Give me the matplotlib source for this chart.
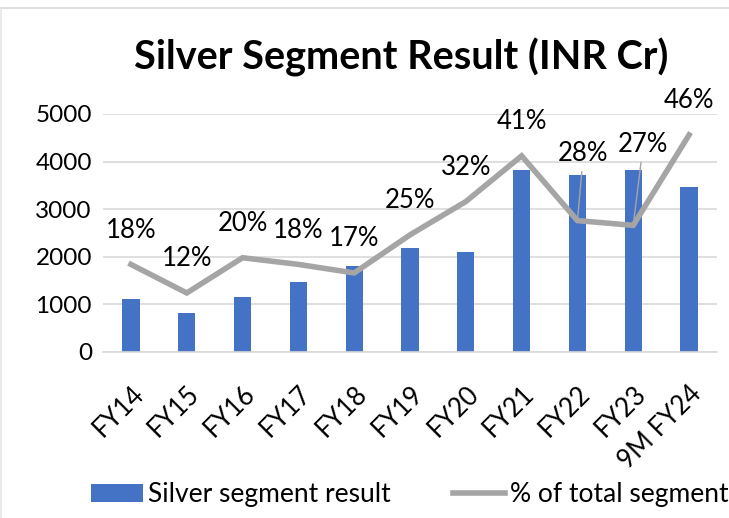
import matplotlib.pyplot as plt
import numpy as np

plt.rcParams['font.family'] = ['Lato', 'DejaVu Sans']

years = ['FY14', 'FY15', 'FY16', 'FY17', 'FY18', 'FY19', 'FY20', 'FY21', 'FY22', 'FY23', '9M FY24']
result = [1115, 820, 1160, 1470, 1805, 2190, 2100, 3825, 3710, 3825, 3465]   # INR Cr
share = [18.4, 12.4, 19.8, 18.4, 16.6, 24.6, 31.6, 41.2, 27.6, 26.6, 45.6]  # % of total segment

blue = '#4472C4'
grey = '#A5A5A5'

fig = plt.figure(figsize=(7.29, 5.18), dpi=100)
ax = fig.add_axes([0.1413, 0.3205, 0.8422, 0.4595])
x = np.arange(len(years))

ax.bar(x, result, width=0.31, color=blue, zorder=2, label='Silver segment result')
ax.set_xlim(-0.5, len(years) - 0.5)
ax.set_ylim(0, 5000)
ax.set_yticks(range(0, 5001, 1000))
ax.grid(axis='y', color='#D9D9D9', linewidth=1.2, zorder=0)
for s in ['top', 'right', 'left']:
    ax.spines[s].set_visible(False)
ax.spines['bottom'].set_color('#D9D9D9')
ax.spines['bottom'].set_linewidth(1.2)
ax.tick_params(length=0, labelsize=17.5, pad=8)
ax.set_xticks(x)
ax.set_xticklabels(years, rotation=45, ha='right', rotation_mode='anchor', fontsize=18.5)
ax.tick_params(axis='x', pad=21)

ax2 = ax.twinx()
ax2.set_ylim(0, 50)
ax2.axis('off')
ax2.plot(x, share, color=grey, linewidth=4, solid_joinstyle='miter', label='% of total segment', zorder=3)

# data labels, the FY22 / FY23 ones were dragged off with leader lines
offsets = {8: (6, 67), 9: (10, 81)}
for i, v in enumerate(share):
    txt = '%d%%' % round(v)
    if i in offsets:
        ax2.annotate(txt, (x[i], v), xytext=offsets[i], textcoords='offset pixels',
                     ha='center', va='center', fontsize=18.5,
                     arrowprops=dict(arrowstyle='-', color=grey, lw=1, shrinkA=2, shrinkB=2))
    else:
        ax2.annotate(txt, (x[i], v), xytext=(0, 34), textcoords='offset pixels',
                     ha='center', va='center', fontsize=18.5)

fig.text(0.55, 0.89, 'Silver Segment Result (INR Cr)', ha='center', va='center',
         fontsize=28.5, fontweight='bold')

h1, l1 = ax.get_legend_handles_labels()
h2, l2 = ax2.get_legend_handles_labels()
fig.legend(h1 + h2, l1 + l2, loc='center', bbox_to_anchor=(0.562, 0.045), ncol=2,
           frameon=False, fontsize=19, handlelength=1.97, handletextpad=0.19, columnspacing=2.35)

# faint chart-area border (top and left edges visible in the crop)
top = 1 - 7.5 / 518
fig.add_artist(plt.Line2D([0, 1], [top, top], color='#D9D9D9', lw=1.2, transform=fig.transFigure))
fig.add_artist(plt.Line2D([0.8 / 729, 0.8 / 729], [0, top], color='#E6E6E6', lw=1.2, transform=fig.transFigure))

fig.savefig('out.png', dpi=100)
